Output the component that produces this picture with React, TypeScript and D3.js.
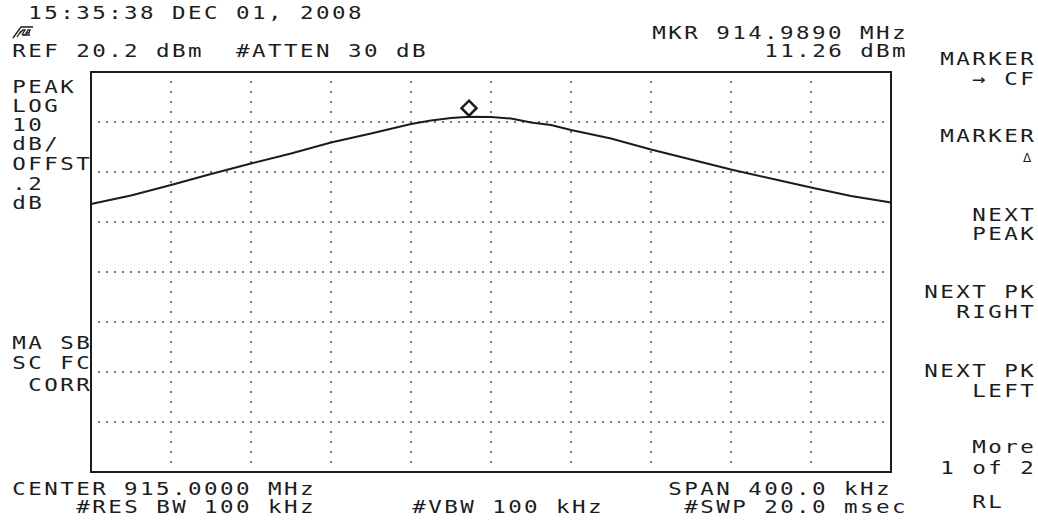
import React from 'react';
import * as d3 from 'd3';

// analyzer settings
const centerMHz = 915.0;
const spanMHz = 0.4;
const refLevelDbm = 20.2;
const dbPerDiv = 10;
const xDivs = 10;
const yDivs = 8;

// trace
const traceFreqMHz = [
  914.80, 914.82, 914.84, 914.86, 914.88, 914.90, 914.92, 914.94, 914.96, 914.97,
  914.98, 914.989, 915.00, 915.01, 915.02, 915.03, 915.04, 915.06, 915.08, 915.10,
  915.12, 915.14, 915.16, 915.18, 915.20,
];
const traceLevelDbm = [
  -6.2, -4.5, -2.4, -0.2, 1.9, 3.9, 6.1, 7.9, 9.8, 10.5,
  11.0, 11.26, 11.2, 10.9, 10.1, 9.6, 8.6, 6.9, 4.7, 2.7,
  0.7, -1.1, -2.9, -4.6, -5.9,
];

const markerFreqMHz = 914.989;
const markerLevelDbm = 11.26;

// screen annotations (character column, baseline)
const headerText = [
  { text: ' 15:35:38 DEC 01, 2008', col: 0, y: 18.5 },
  { text: 'MKR 914.9890 MHz', col: 40, y: 39 },
  { text: 'REF 20.2 dBm  #ATTEN 30 dB', col: 0, y: 56.5 },
  { text: '11.26 dBm', col: 47, y: 56.5 },
];
const leftText = [
  { text: 'PEAK', col: 0, y: 93 },
  { text: 'LOG', col: 0, y: 112 },
  { text: '10', col: 0, y: 131 },
  { text: 'dB/', col: 0, y: 150 },
  { text: 'OFFST', col: 0, y: 170 },
  { text: '.2', col: 0, y: 189.5 },
  { text: 'dB', col: 0, y: 209 },
  { text: 'MA SB', col: 0, y: 349 },
  { text: 'SC FC', col: 0, y: 368.5 },
  { text: 'CORR', col: 1, y: 390.5 },
];
const footerText = [
  { text: 'CENTER 915.0000 MHz', col: 0, y: 495 },
  { text: 'SPAN 400.0 kHz', col: 41, y: 495 },
  { text: '#RES BW 100 kHz', col: 4, y: 513 },
  { text: '#VBW 100 kHz', col: 25, y: 513 },
  { text: '#SWP 20.0 msec', col: 42, y: 513 },
];
const softkeyText = [
  { text: 'MARKER', col: 58, y: 65 },
  { text: '→ CF', col: 60, y: 85 },
  { text: 'MARKER', col: 58, y: 141.5 },
  { text: 'NEXT', col: 60, y: 220.5 },
  { text: 'PEAK', col: 60, y: 240 },
  { text: 'NEXT PK', col: 57, y: 298 },
  { text: 'RIGHT', col: 59, y: 317.5 },
  { text: 'NEXT PK', col: 57, y: 376.5 },
  { text: 'LEFT', col: 60, y: 396.5 },
  { text: 'More', col: 60, y: 453 },
  { text: '1 of 2', col: 58, y: 473.5 },
  { text: 'RL', col: 60, y: 507.5 },
];

const W = 1038;
const H = 523;
const plot = { left: 91, top: 72, right: 891, bottom: 472 };
const ink = '#1c1c1c';
const sx = 1.25;
const fontSize = 18;
const pitch = 16;

const ScreenLine: React.FC<{ text: string; col: number; y: number }> = ({ text, col, y }) => (
  <text
    transform={`translate(${12.2 + pitch * col},${y}) scale(${sx},1)`}
    fontFamily="'DejaVu Sans Mono', monospace"
    fontSize={fontSize}
    fill={ink}
    style={{ letterSpacing: `${pitch / sx - fontSize * 0.6021}px`, whiteSpace: 'pre' }}
  >
    {text}
  </text>
);

const App: React.FC = () => {
  const x = d3.scaleLinear()
    .domain([centerMHz - spanMHz / 2, centerMHz + spanMHz / 2])
    .range([plot.left, plot.right]);
  const y = d3.scaleLinear()
    .domain([refLevelDbm - dbPerDiv * yDivs, refLevelDbm])
    .range([plot.bottom, plot.top]);

  const hLines = d3.range(1, yDivs).map(i => y(refLevelDbm - dbPerDiv * i));
  const vLines = d3.range(1, xDivs).map(i => x(centerMHz - spanMHz / 2 + (spanMHz / xDivs) * i));
  const hDotsX = d3.range(plot.left + 8, plot.right - 2, 8);
  const vDotsY = d3.range(plot.top + 10, plot.bottom - 2, 10);

  const line = d3.line<number>()
    .x((_, i) => x(traceFreqMHz[i]))
    .y(d => y(d));

  const mx = x(markerFreqMHz);
  const my = y(markerLevelDbm) - 8.5;
  const md = 7.5;

  return (
    <svg width={W} height={H} style={{ position: 'absolute', left: 0, top: 0, background: '#fff' }}>
      <rect width={W} height={H} fill="#fff" />

      {/* graticule dots */}
      <g fill="#777">
        {hLines.map((gy, i) =>
          hDotsX.map(dx => <rect key={`h${i}-${dx}`} x={dx - 1} y={gy - 1} width={2} height={2} />)
        )}
        {vLines.map((gx, i) =>
          vDotsY.map(dy => <rect key={`v${i}-${dy}`} x={gx - 1} y={dy - 1} width={2} height={2} />)
        )}
      </g>

      <rect
        x={plot.left}
        y={plot.top}
        width={plot.right - plot.left}
        height={plot.bottom - plot.top}
        fill="none"
        stroke={ink}
        strokeWidth={2}
      />

      {/* trace */}
      <path d={line(traceLevelDbm) || ''} fill="none" stroke={ink} strokeWidth={2} />

      {/* marker */}
      <path
        d={`M${mx},${my - md} L${mx + md},${my} L${mx},${my + md} L${mx - md},${my} Z`}
        fill="#fff"
        stroke={ink}
        strokeWidth={2.5}
      />

      {/* hp logo */}
      <g stroke={ink} strokeWidth={1.3} fill="none">
        <path d="M13,38 L21,27 L33,27" />
        <path d="M17,37 L21,31 M19,34 L23,30 L25,30 L22,35 M25,35 L28,30 L30,30 L29,33 L26,33 M22,35 L30,35" />
      </g>

      {[...headerText, ...leftText, ...footerText, ...softkeyText].map((t, i) => (
        <ScreenLine key={i} text={t.text} col={t.col} y={t.y} />
      ))}

      {/* delta marker symbol */}
      <text
        x={1027}
        y={161.5}
        textAnchor="middle"
        fontFamily="'DejaVu Sans', sans-serif"
        fontSize={12}
        fill={ink}
      >
        Δ
      </text>
    </svg>
  );
};

export default App;
